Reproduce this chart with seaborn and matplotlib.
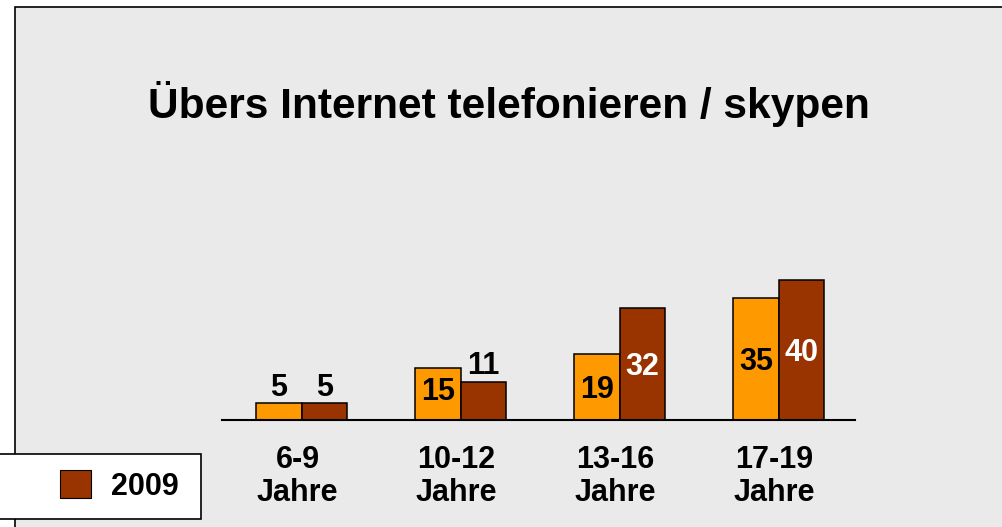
import pandas as pd
import matplotlib
matplotlib.use("Agg")
import matplotlib.pyplot as plt
import seaborn as sns
from matplotlib.patches import Rectangle
from matplotlib.transforms import ScaledTranslation

# data
age_groups = ["6-9\nJahre", "10-12\nJahre", "13-16\nJahre", "17-19\nJahre"]
years = ["2008", "2009"]
values_2008 = [5, 15, 19, 35]
values_2009 = [5, 11, 32, 40]

title = "Übers Internet telefonieren / skypen"
orange = "#FF9900"
brown = "#993300"
panel_bg = "#EAEAEA"

df = pd.DataFrame({
    "Alter": age_groups * 2,
    "Jahr": [years[0]] * 4 + [years[1]] * 4,
    "Prozent": values_2008 + values_2009,
})

sns.set_theme(style="white")
plt.rcParams["font.family"] = ["Liberation Sans", "DejaVu Sans"]
plt.rcParams["font.weight"] = "bold"
plt.rcParams["text.color"] = "black"

fig = plt.figure(figsize=(10.02, 5.27), dpi=100)
fig.patch.set_facecolor("white")

# grey slide panel behind the chart
fig.patches.append(Rectangle((15 / 1002, -0.05), 1.0, 0.05 + 1 - 7 / 527,
                             transform=fig.transFigure, facecolor=panel_bg,
                             edgecolor="black", linewidth=1.2, zorder=-5))

ax = fig.add_axes([222 / 1002, 107 / 527, 633 / 1002, 175 / 527])
ax.set_facecolor("none")

sns.barplot(data=df, x="Alter", y="Prozent", hue="Jahr",
            palette=[orange, brown], width=0.57, gap=0,
            edgecolor="black", linewidth=1.1, saturation=1,
            legend=False, ax=ax)

ax.set_xlim(-0.5, 3.48)
ax.set_ylim(0, 50)
ax.set_xlabel("")
ax.set_ylabel("")
ax.set_yticks([])
for side in ["left", "right", "top"]:
    ax.spines[side].set_visible(False)
ax.spines["bottom"].set_color("black")
ax.spines["bottom"].set_linewidth(1.5)
ax.tick_params(axis="x", length=0, pad=18)
shift = ScaledTranslation(-4 / 100, 0, fig.dpi_scale_trans)
for lbl in ax.get_xticklabels():
    lbl.set_fontsize(22)
    lbl.set_fontweight("bold")
    lbl.set_color("black")
    lbl.set_linespacing(1.12)
    lbl.set_transform(lbl.get_transform() + shift)

# value labels: small bars get the number on top, others inside
half_cap = 11 / 3.5  # half digit height in data units
for cont, vals in zip(ax.containers, [values_2008, values_2009]):
    for bar, v in zip(cont, vals):
        x = bar.get_x() + bar.get_width() / 2
        if v < 12:
            ax.text(x, v + 2.0, str(v), ha="center", va="baseline",
                    fontsize=22, fontweight="bold", color="black")
        else:
            col = "white" if cont is ax.containers[1] else "black"
            ax.text(x, max(v / 2, 8.9) - half_cap, str(v), ha="center",
                    va="baseline", fontsize=22, fontweight="bold", color=col)

fig.text(509 / 1002, 1 - 104 / 527, title, ha="center", va="center",
         fontsize=30.6, fontweight="bold", color="black")

# legend box (only the 2009 entry is visible)
fig.patches.append(Rectangle((-1 / 1002, 1 - 519 / 527), 202 / 1002, 65 / 527,
                             transform=fig.transFigure, facecolor="white",
                             edgecolor="black", linewidth=1.2, zorder=3))
handle = Rectangle((0, 0), 1, 1, facecolor=brown, edgecolor="black", linewidth=0.8)
leg = fig.legend([handle], [years[1]], loc="center left",
                 bbox_to_anchor=(42 / 1002, 1 - 486 / 527), frameon=False,
                 handlelength=1.0, handleheight=1.0,
                 handletextpad=0.65, borderpad=0.1,
                 prop={"weight": "bold", "size": 22})
leg.set_zorder(4)
for t in leg.get_texts():
    t.set_color("black")

fig.savefig("out.png", dpi=100)
